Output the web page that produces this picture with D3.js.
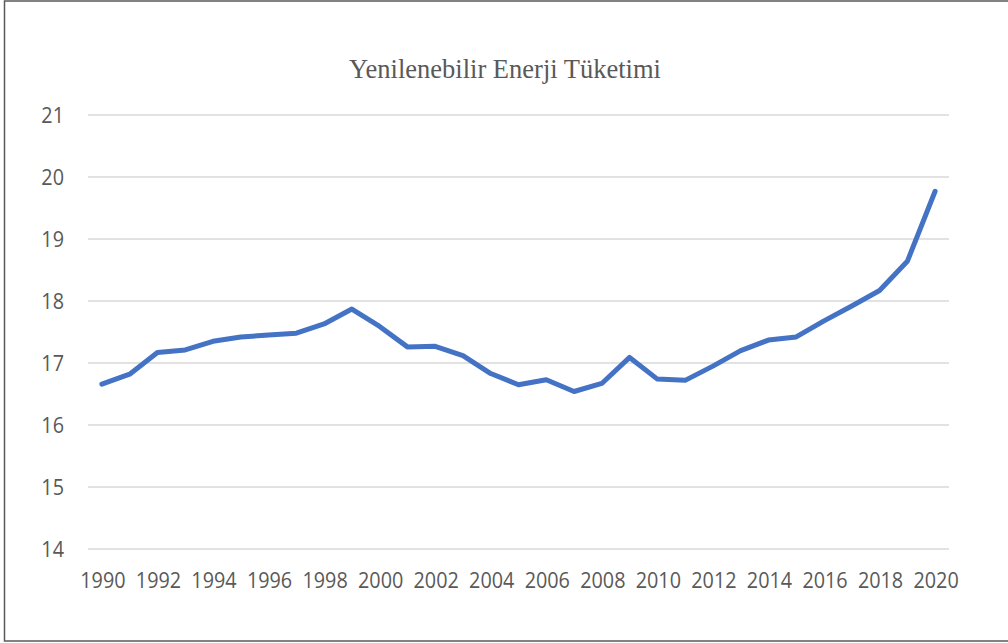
<!DOCTYPE html>
<html>
<head>
<meta charset="utf-8">
<script src="https://cdn.jsdelivr.net/npm/d3@7"></script>
<style>
  html, body { margin: 0; padding: 0; background: #fff; }
  svg { display: block; }
</style>
</head>
<body>
<div id="chart"></div>
<script>
// Renewable energy consumption by year
const years = d3.range(1990, 2021);
const values = [
  16.66, 16.82, 17.17, 17.21, 17.35, 17.42, 17.45, 17.48, 17.63, 17.87,
  17.59, 17.26, 17.27, 17.12, 16.83, 16.65, 16.73, 16.54, 16.67, 17.09,
  16.74, 16.72, 16.95, 17.20, 17.37, 17.42, 17.68, 17.92, 18.17, 18.64,
  19.77
];
const yTicks = [14, 15, 16, 17, 18, 19, 20, 21];
const xTickLabels = years.filter(y => y % 2 === 0);
const title = "Yenilenebilir Enerji Tüketimi";

const width = 1008, height = 643;
const textColor = "#595959";
const sx = 0.9; // narrow the label font a bit

const svg = d3.select("#chart").append("svg")
    .attr("width", width)
    .attr("height", height);

// outer frame
svg.append("rect")
    .attr("x", 4.5).attr("y", 1)
    .attr("width", width - 3).attr("height", 640)
    .attr("fill", "none")
    .attr("stroke", "#595959")
    .attr("stroke-width", 1.5);

const x = d3.scalePoint()
    .domain(years)
    .range([88, 949])
    .padding(0.5);

const y = d3.scaleLinear()
    .domain([14, 21])
    .range([549, 115]);

// title
svg.append("text")
    .attr("x", 505)
    .attr("y", 78)
    .attr("text-anchor", "middle")
    .style("font-family", "'Liberation Serif', 'Times New Roman', serif")
    .style("font-size", "26.5px")
    .attr("fill", textColor)
    .text(title);

// gridlines
svg.append("g")
    .selectAll("line")
    .data(yTicks)
    .join("line")
    .attr("x1", 88).attr("x2", 949)
    .attr("y1", d => y(d)).attr("y2", d => y(d))
    .attr("stroke", "#d9d9d9")
    .attr("stroke-width", 1.5);

// y labels
svg.append("g")
    .selectAll("text")
    .data(yTicks)
    .join("text")
    .attr("transform", d => `translate(64,${y(d) + 8}) scale(${sx},1)`)
    .attr("text-anchor", "end")
    .style("font-family", "'Open Sans', sans-serif")
    .style("font-size", "22px")
    .attr("fill", textColor)
    .text(d => d);

// x labels
svg.append("g")
    .selectAll("text")
    .data(xTickLabels)
    .join("text")
    .attr("transform", d => `translate(${x(d) + 1},${588}) scale(${sx},1)`)
    .attr("text-anchor", "middle")
    .style("font-family", "'Open Sans', sans-serif")
    .style("font-size", "22px")
    .attr("fill", textColor)
    .text(d => d);

// the line
const line = d3.line()
    .x((d, i) => x(years[i]))
    .y(d => y(d));

svg.append("path")
    .datum(values)
    .attr("d", line)
    .attr("fill", "none")
    .attr("stroke", "#4472c4")
    .attr("stroke-width", 5)
    .attr("stroke-linejoin", "round")
    .attr("stroke-linecap", "round");
</script>
</body>
</html>
